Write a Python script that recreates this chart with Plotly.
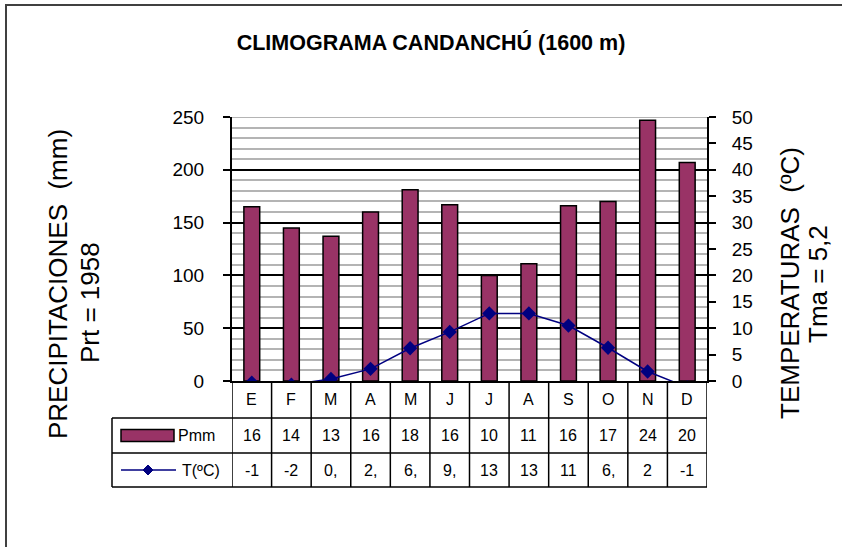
import plotly.graph_objects as go

# ---------------- data ----------------
months = ["E", "F", "M", "A", "M", "J", "J", "A", "S", "O", "N", "D"]
precip_mm = [165, 145, 137, 160, 181, 167, 100, 111, 166, 170, 247, 207]
temp_c = [-0.3, -0.7, 0.4, 2.3, 6.2, 9.3, 12.8, 12.8, 10.5, 6.3, 1.8, -1.2]
precip_table_labels = ["16", "14", "13", "16", "18", "16", "10", "11", "16", "17", "24", "20"]
temp_table_labels = ["-1", "-2", "0,", "2,", "6,", "9,", "13", "13", "11", "6,", "2", "-1"]
left_ticks = [0, 50, 100, 150, 200, 250]
right_ticks = [0, 5, 10, 15, 20, 25, 30, 35, 40, 45, 50]

title_text = "CLIMOGRAMA CANDANCHÚ (1600 m)"
left_title_1 = "PRECIPITACIONES  (mm)"
left_title_2 = "Prt = 1958"
right_title_1 = "TEMPERATURAS  (ºC)"
right_title_2 = "Tma = 5,2"
series_p = "Pmm"
series_t = "T(ºC)"

# ---------------- layout geometry (pixels) ----------------
W, H = 842, 547
PL, PR, PT, PB = 232, 707, 117, 381
PW, PH = PR - PL, PB - PT

def fx(X):
    return (X - PL) / PW

def fy(Y):
    return (PB - Y) / PH

BAR_COLOR = "#993366"
LINE_COLOR = "#000080"
SANS = "Liberation Sans, Arial, sans-serif"

xs = list(range(len(months)))

fig = go.Figure()
fig.add_trace(go.Bar(
    x=xs, y=precip_mm, name=series_p, width=0.4,
    marker=dict(color=BAR_COLOR, line=dict(color="black", width=1.5)),
    yaxis="y",
))
fig.add_trace(go.Scatter(
    x=xs, y=temp_c, name=series_t, mode="lines+markers",
    line=dict(color=LINE_COLOR, width=1.5),
    marker=dict(symbol="diamond", size=11, color=LINE_COLOR),
    yaxis="y2",
))
# helper axis for black major gridlines
fig.add_trace(go.Scatter(x=[None], y=[None], yaxis="y3", showlegend=False, hoverinfo="skip"))

shapes = []
annotations = []

# outer frame
shapes.append(dict(type="rect", xref="paper", yref="paper",
                   x0=fx(6), x1=fx(870), y0=fy(580), y1=fy(5),
                   line=dict(color="#404040", width=2), fillcolor="rgba(0,0,0,0)", layer="below"))
# grey top line of plot area
shapes.append(dict(type="line", xref="paper", yref="y", x0=0, x1=1, y0=left_ticks[-1], y1=left_ticks[-1],
                   line=dict(color="#b4b4b4", width=2), layer="below"))

# ---------------- data table ----------------
ROW1_B, ROW2_B, ROW3_B = 418, 453, 487
LEG_L = 112
tline = dict(color="black", width=1.5)
n = len(months)
for k in range(n + 1):
    shapes.append(dict(type="line", xref="x", yref="paper", x0=k - 0.5, x1=k - 0.5,
                       y0=fy(PB), y1=fy(ROW3_B), line=tline))
shapes.append(dict(type="line", xref="paper", yref="paper", x0=fx(LEG_L), x1=fx(LEG_L),
                   y0=fy(ROW1_B), y1=fy(ROW3_B), line=tline))
for Yb in (ROW1_B, ROW2_B, ROW3_B):
    shapes.append(dict(type="line", xref="paper", yref="paper", x0=fx(LEG_L), x1=1,
                       y0=fy(Yb), y1=fy(Yb), line=tline))

cell_font = dict(family=SANS, size=16, color="black")
r1c = (PB + ROW1_B) / 2
r2c = (ROW1_B + ROW2_B) / 2
r3c = (ROW2_B + ROW3_B) / 2
for i in range(n):
    annotations.append(dict(x=i, y=fy(r1c), xref="x", yref="paper", xanchor="center", yanchor="middle",
                            text=months[i], showarrow=False, font=cell_font))
    annotations.append(dict(x=i, y=fy(r2c), xref="x", yref="paper", xanchor="center", yanchor="middle",
                            text=precip_table_labels[i], showarrow=False, font=cell_font))
    annotations.append(dict(x=i, y=fy(r3c), xref="x", yref="paper", xanchor="center", yanchor="middle",
                            text=temp_table_labels[i], showarrow=False, font=cell_font))

# legend keys in table
shapes.append(dict(type="rect", xref="paper", yref="paper",
                   x0=fx(121), x1=fx(174), y0=fy(r2c + 6), y1=fy(r2c - 6),
                   fillcolor=BAR_COLOR, line=dict(color="black", width=1.5)))
annotations.append(dict(x=fx(176), y=fy(r2c), xref="paper", yref="paper", xanchor="left", yanchor="middle",
                        text=series_p, showarrow=False, font=cell_font))
shapes.append(dict(type="line", xref="paper", yref="paper",
                   x0=fx(121), x1=fx(176), y0=fy(r3c), y1=fy(r3c),
                   line=dict(color=LINE_COLOR, width=1.5)))
shapes.append(dict(type="path", xref="paper", yref="paper",
                   xsizemode="pixel", ysizemode="pixel", xanchor=fx(148), yanchor=fy(r3c),
                   path="M -5 0 L 0 5 L 5 0 L 0 -5 Z",
                   fillcolor=LINE_COLOR, line=dict(color=LINE_COLOR, width=1)))
annotations.append(dict(x=fx(180), y=fy(r3c), xref="paper", yref="paper", xanchor="left", yanchor="middle",
                        text=series_t, showarrow=False, font=cell_font))

# ---------------- axis titles ----------------
tfont = dict(family=SANS, size=26, color="black")
for txt, X, Y in ((left_title_1, 58, 284), (left_title_2, 90, 303),
                  (right_title_1, 790, 283), (right_title_2, 818, 284)):
    annotations.append(dict(x=fx(X), y=fy(Y), xref="paper", yref="paper", text=txt,
                            xanchor="center", yanchor="middle",
                            textangle=-90, showarrow=False, font=tfont))

tickfont = dict(family=SANS, size=19, color="black")

fig.update_layout(
    width=W, height=H,
    margin=dict(l=PL, r=W - PR, t=PT, b=H - PB, pad=0),
    paper_bgcolor="white", plot_bgcolor="white",
    showlegend=False,
    title=dict(text=f"<b>{title_text}</b>", x=431 / W, xanchor="center",
               y=1 - 42 / H, yanchor="middle",
               font=dict(family=SANS, size=21.5, color="black")),
    xaxis=dict(range=[-0.5, n - 0.5], showticklabels=False, ticks="", showgrid=False,
               zeroline=False, showline=True, linecolor="black", linewidth=2, fixedrange=True),
    yaxis=dict(range=[0, 250], tickvals=left_ticks, showgrid=False, zeroline=False,
               showline=True, linecolor="black", linewidth=2,
               ticks="outside", ticklen=7, tickwidth=1.5, tickcolor="black",
               ticklabelstandoff=15, tickfont=tickfont,
               minor=dict(dtick=10, showgrid=True, gridcolor="#b4b4b4", gridwidth=2, ticks="")),
    yaxis2=dict(range=[0, 50], tickvals=right_ticks, overlaying="y", side="right",
                showgrid=False, zeroline=False, showline=True, linecolor="black", linewidth=2,
                ticks="outside", ticklen=7, tickwidth=1.5, tickcolor="black",
                ticklabelstandoff=12, tickfont=tickfont),
    yaxis3=dict(range=[0, 250], tickvals=left_ticks[1:-1], overlaying="y", showgrid=True,
                gridcolor="black", gridwidth=1.5, showticklabels=False, ticks="",
                zeroline=False, showline=False),
    shapes=shapes,
    annotations=annotations,
)

fig.write_html("out.html", config={"displayModeBar": False},
               post_script="document.body.style.margin='0';")
